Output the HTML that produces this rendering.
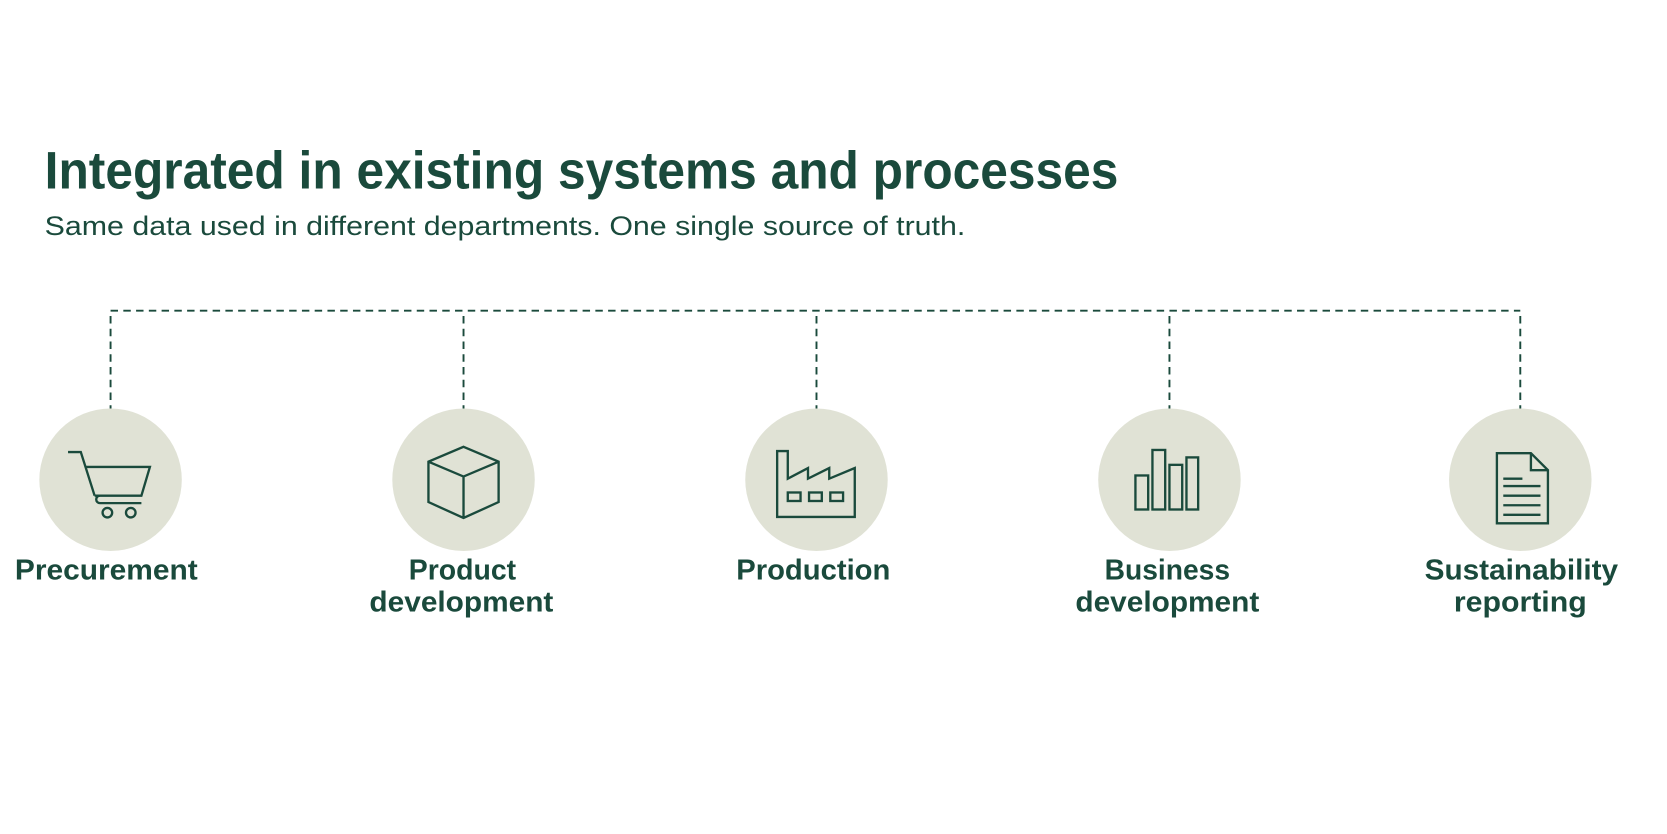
<!DOCTYPE html>
<html><head><meta charset="utf-8"><style>html,body{margin:0;padding:0;background:#fff}svg{display:block}</style></head>
<body>
<svg width="1667" height="834" viewBox="0 0 1568 784" xmlns="http://www.w3.org/2000/svg">
<g font-family="Liberation Sans, sans-serif" fill="#1a4a3c">
<text x="42" y="177" font-size="50" font-weight="bold" textLength="1010" lengthAdjust="spacingAndGlyphs">Integrated in existing systems and processes</text>
<text x="42" y="221" font-size="25" textLength="866" lengthAdjust="spacingAndGlyphs">Same data used in different departments. One single source of truth.</text>
</g>
<g stroke="#1a4a3c" stroke-width="1.8" stroke-dasharray="7,5" fill="none">
<path d="M104 292 H1430"/>
<path d="M104 297 V384 M436 297 V384 M768 297 V384 M1100 297 V384 M1430 297 V384"/>
</g>
<g fill="#e0e2d5">
<circle cx="104" cy="451" r="67"/><circle cx="436" cy="451" r="67"/><circle cx="768" cy="451" r="67"/><circle cx="1100" cy="451" r="67"/><circle cx="1430" cy="451" r="67"/>
</g>
<g stroke="#1a4a3c" stroke-width="2.2" fill="none" stroke-linejoin="miter">
<!-- cart -->
<path d="M64 425 H76 L89 466"/>
<path d="M80 439 H141 L133 466 H89"/>
<path d="M94 466 a3.5 3.5 0 0 0 0 7 H133"/>
<circle cx="101" cy="482" r="4.5"/><circle cx="123" cy="482" r="4.5"/>
<!-- box -->
<path d="M436 420 L469 434 L469 472 L436 487 L403 472 L403 434 Z M403 434 L436 448 L469 434 M436 448 V487"/>
<!-- factory -->
<path d="M731 486 V424 H741 V450 L760 440 V450 L780 440 V450 L804 440 V486 Z"/>
<rect x="741" y="463" width="12" height="8"/><rect x="761" y="463" width="12" height="8"/><rect x="781" y="463" width="12" height="8"/>
<!-- bars -->
<rect x="1068" y="447" width="12" height="32"/><rect x="1084" y="423" width="12" height="56"/><rect x="1100" y="437" width="12" height="42"/><rect x="1116" y="430" width="11" height="49"/>
<!-- doc -->
<path d="M1408 426 H1440 L1456 442 V492 H1408 Z M1440 426 V442 H1456"/>
<path d="M1414 450 H1432 M1414 457 H1449 M1414 466 H1449 M1414 475 H1449 M1414 484 H1449"/>
</g>
<g font-family="Liberation Sans, sans-serif" font-weight="bold" font-size="27" fill="#1a4a3c" text-anchor="middle">
<text x="100" y="545" textLength="172" lengthAdjust="spacingAndGlyphs">Precurement</text>
<text x="435" y="545" textLength="101" lengthAdjust="spacingAndGlyphs">Product</text>
<text x="434" y="575" textLength="173" lengthAdjust="spacingAndGlyphs">development</text>
<text x="765" y="545" textLength="145" lengthAdjust="spacingAndGlyphs">Production</text>
<text x="1098" y="545" textLength="118" lengthAdjust="spacingAndGlyphs">Business</text>
<text x="1098" y="575" textLength="173" lengthAdjust="spacingAndGlyphs">development</text>
<text x="1431" y="545" textLength="182" lengthAdjust="spacingAndGlyphs">Sustainability</text>
<text x="1430" y="575" textLength="125" lengthAdjust="spacingAndGlyphs">reporting</text>
</g>
</svg>
</body></html>
